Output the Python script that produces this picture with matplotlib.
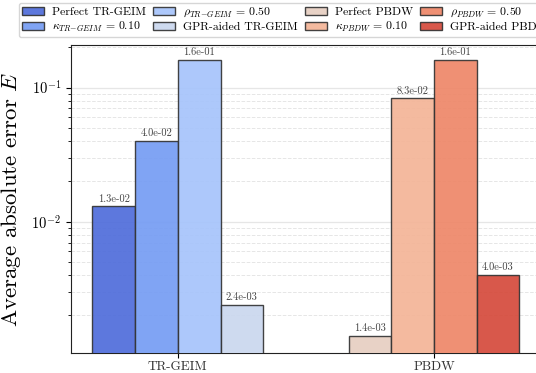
import numpy as np
import matplotlib
matplotlib.use("Agg")
import matplotlib.pyplot as plt

plt.rcParams["font.family"] = "serif"
plt.rcParams["font.serif"] = ["cmr10"]
plt.rcParams["mathtext.fontset"] = "cm"
plt.rcParams["axes.formatter.use_mathtext"] = True

# dados
groups = ["TR-GEIM", "PBDW"]
trgeim_labels = ["Perfect TR-GEIM", r"$\kappa_{TR{-}GEIM}\,=\,0.10$",
                 r"$\rho_{TR{-}GEIM}\,=\,0.50$", "GPR-aided TR-GEIM"]
pbdw_labels = ["Perfect PBDW", r"$\kappa_{PBDW}\,=\,0.10$",
               r"$\rho_{PBDW}\,=\,0.50$", "GPR-aided PBDW"]
trgeim_err = [1.3e-2, 4.0e-2, 1.6e-1, 2.4e-3]
pbdw_err = [1.4e-3, 8.3e-2, 1.6e-1, 4.0e-3]

blues = ["#4f6ddb", "#759cf4", "#a6c4fb", "#cad7ee"]
reds = ["#e7cfc1", "#f4b497", "#ee8768", "#d54a3b"]

fig = plt.figure(figsize=(5.36, 3.73), dpi=100)
ax = fig.add_axes([0.1325, 0.0536, 0.8765, 0.8258])

width = 1 / 6
x = np.arange(len(groups))
handles = []
for i in range(4):
    off = (i - 1.5) * width
    b1 = ax.bar(x[0] + off, trgeim_err[i], width, color=blues[i], alpha=0.92,
                edgecolor="#333333", linewidth=1.0, label=trgeim_labels[i], zorder=3)
    ax.bar_label(b1, fmt="%.1e", fontsize=7.5, color="#444444", padding=2)
    handles.append(b1)
for i in range(4):
    off = (i - 1.5) * width
    b2 = ax.bar(x[1] + off, pbdw_err[i], width, color=reds[i], alpha=0.92,
                edgecolor="#333333", linewidth=1.0, label=pbdw_labels[i], zorder=3)
    ax.bar_label(b2, fmt="%.1e", fontsize=7.5, color="#444444", padding=2)
    handles.append(b2)

ax.set_yscale("log")
ymin = min(trgeim_err + pbdw_err) * 0.75
ymax = max(trgeim_err + pbdw_err) * 1.3
ax.set_ylim(ymin, ymax)
ax.set_xticks(x)
ax.set_xticklabels(groups, fontsize=9.5, color="#333333")
ax.tick_params(axis="x", pad=2)
ax.tick_params(axis="y", labelsize=10.5)
ax.set_ylabel(r"Average absolute error $E$", fontsize=16.5, labelpad=6)
ax.grid(True, which="major", axis="y", color="#e6e6e6", linewidth=0.9, zorder=0)
ax.grid(True, which="minor", axis="y", color="#e6e6e6", linestyle="--", linewidth=0.7, zorder=0)
ax.set_axisbelow(True)
for s in ax.spines.values():
    s.set_color("#222222")

# legenda em 4 colunas, no topo da figura
fig.legend(handles, trgeim_labels + pbdw_labels,
           loc="upper left", bbox_to_anchor=(0.0354, 0.992), borderaxespad=0,
           ncol=4, fontsize=8.5, frameon=True, edgecolor="#cccccc", fancybox=True,
           handlelength=1.86, handleheight=0.7, handletextpad=0.68,
           columnspacing=0.6, borderpad=0.25, labelspacing=0.25)

fig.savefig("out.png", dpi=100)
